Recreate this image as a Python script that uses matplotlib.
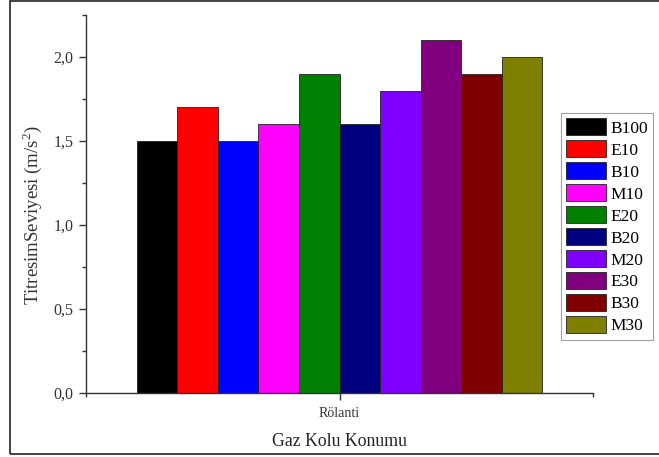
import matplotlib
matplotlib.use("Agg")
import matplotlib.pyplot as plt
from matplotlib.ticker import FixedLocator, FuncFormatter
from matplotlib.patches import Rectangle

series = ["B100", "E10", "B10", "M10", "E20", "B20", "M20", "E30", "B30", "M30"]
values = [1.5, 1.7, 1.5, 1.6, 1.9, 1.6, 1.8, 2.1, 1.9, 2.0]
colors = ["#000000", "#FF0000", "#0000FF", "#FF00FF", "#008000",
          "#000080", "#8000FF", "#800080", "#800000", "#808000"]
category = "Rölanti"
y_label = "TitresimSeviyesi (m/s$^2$)"
x_label = "Gaz Kolu Konumu"

plt.rcParams["font.family"] = ["Liberation Serif", "DejaVu Serif"]
plt.rcParams["mathtext.fontset"] = "custom"
plt.rcParams["mathtext.rm"] = "Liberation Serif"

fig = plt.figure(figsize=(6.59, 4.57), dpi=100)
ax = fig.add_axes([86/659, 64/457, 507/659, 378/457])

n = len(series)
w = 0.08
for i, (s, v, c) in enumerate(zip(series, values, colors)):
    x = (i - (n - 1) / 2) * w
    ax.bar(x, v, width=w, color=c, edgecolor="#222222", linewidth=0.6, label=s)

ax.set_xlim(-0.5, 0.5)
ax.set_ylim(0, 2.25)
ax.set_xticks([0])
ax.set_xticklabels([category], fontsize=10, family=["Liberation Serif", "DejaVu Serif"])
ax.xaxis.set_minor_locator(FixedLocator([-0.5, 0.5]))
ax.set_yticks([0, 0.5, 1.0, 1.5, 2.0])
ax.yaxis.set_major_formatter(FuncFormatter(lambda v, p: f"{v:.1f}".replace(".", ",")))
ax.yaxis.set_minor_locator(FixedLocator([0.25, 0.75, 1.25, 1.75, 2.25]))
ax.tick_params(axis="both", which="major", direction="out", length=5, width=1, colors="#333333")
ax.tick_params(axis="y", which="major", labelsize=11.5, pad=4)
ax.tick_params(axis="x", which="major", length=5, pad=5)
ax.tick_params(axis="both", which="minor", direction="out", length=3, width=1, colors="#333333")
for sp in ["top", "right"]:
    ax.spines[sp].set_visible(False)
for sp in ["left", "bottom"]:
    ax.spines[sp].set_linewidth(1)
    ax.spines[sp].set_color("#333333")

ax.set_ylabel(y_label, fontsize=13.5, color="#333333")
ax.yaxis.set_label_coords(-0.083, 0.47)
ax.set_xlabel(x_label, fontsize=12.75, color="#222222")
ax.xaxis.set_label_coords(0.5, -40/378)

leg = ax.legend(loc="upper left", bbox_to_anchor=(561/659, 1 - 113/457), bbox_transform=fig.transFigure,
                fontsize=12.5, handlelength=2.3, handleheight=1.15, labelspacing=0.2,
                handletextpad=0.25, borderpad=0.3, borderaxespad=0, frameon=True, fancybox=False)
leg.get_frame().set_edgecolor("#888888")
leg.get_frame().set_linewidth(0.8)

fig.patches.append(Rectangle((10/659, 3/457), 2, 1 - 4/457, transform=fig.transFigure,
                             fill=False, edgecolor="#222222", linewidth=1.2))

fig.savefig("out.png", dpi=100)
